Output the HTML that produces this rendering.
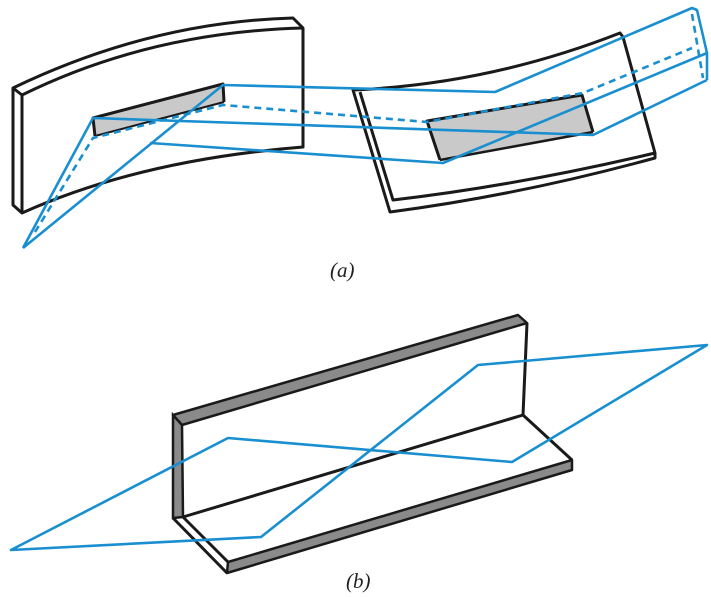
<!DOCTYPE html>
<html><head><meta charset="utf-8"><style>
html,body{margin:0;padding:0;background:#fff;width:711px;height:597px;overflow:hidden}
svg{display:block}
.k{fill:none;stroke:#1a1a1a;stroke-width:3;stroke-linejoin:round}
.b{fill:none;stroke:#1a8fd0;stroke-width:2.6;stroke-linejoin:round}
.d{fill:none;stroke:#1a8fd0;stroke-width:2.6;stroke-dasharray:7 5}
.lab{font-family:"Liberation Serif",serif;font-style:italic;font-size:21px;fill:#222}
</style></head><body>
<svg width="711" height="597" viewBox="0 0 711 597">
<g>
  <g>
    <path class="k" d="M13,88 Q150,22 293,18 L303,28 L303,147 Q140,160 22,213 L13,205 Z" style="fill:#fff"/>
    <path class="k" d="M22,95 Q150,32 303,28"/>
    <path class="k" d="M22,95 L22,213 M13,88 L22,95"/>
  </g>
  <g>
    <path d="M93,118 L223,84 L224,102 L95,136 Z" fill="#c9c9c9" stroke="none"/>
    <path class="k" d="M95,136 L93,118 L223,84 L224,102"/>
    <path fill="none" stroke="#1a1a1a" stroke-width="2" d="M95,136 L224,102"/>
  </g>
  <g>
    <path d="M353,90 L360,90 Q480,85 620,33 L655,153 Q520,185 393,200 L388,212 Z" fill="#fff" stroke="none"/>
    <path class="k" d="M353,90 Q490,84 620,33 L623,37 L655,153 L655,158 Q520,195 390,212 L353,90 Z"/>
    <path class="k" d="M360,92 L393,200 Q520,185 655,153"/>
  </g>
  <g>
    <path d="M427,121 L582,95 L593,132 L440,160 Z" fill="#c9c9c9" stroke="none"/>
    <path class="k" d="M440,160 L427,121 L582,95 L593,132"/>
    <path fill="none" stroke="#1a1a1a" stroke-width="2.5" d="M440,160 L593,132"/>
  </g>
  <g>
    <path class="b" d="M23,248 L93,118 L593,135 L707,80"/>
    <path class="b" d="M23,248 L223,85 L495,92 L692,8 L697,10 L707,53 L707,80"/>
    <path class="b" d="M150,143 L443,163 L707,53"/>
    <path class="d" d="M35,232 L93,138 L223,105 L427,122 L583,93 L692,48"/>
    <path class="d" d="M692,14 L703,78"/>
  </g>
  <text class="lab" x="330" y="277">(a)</text>
</g>
<g>
  <g>
    <path d="M173,415 L518,315 L527,323 L182,425 Z" fill="#8a8a8a" stroke="#1a1a1a" stroke-width="2.5" stroke-linejoin="round"/>
    <path d="M173,415 L182,425 L183,517 L173,518 Z" fill="#8a8a8a" stroke="#1a1a1a" stroke-width="2.5"/>
    <path class="k" d="M527,323 L523,415 L183,517"/>
    <path class="k" d="M523,415 L572,460"/>
    <path d="M228,562 L572,460 L572,470 L227,573 Z" fill="#8a8a8a" stroke="#1a1a1a" stroke-width="2.5" stroke-linejoin="round"/>
    <path class="k" d="M173,518 L227,573 M183,517 L228,562"/>
  </g>
  <path class="b" d="M11,550 L261,537 L478,365 L707,345 L512,462 L228,438 Z"/>
  <text class="lab" x="346" y="588">(b)</text>
</g>
</svg>
</body></html>
